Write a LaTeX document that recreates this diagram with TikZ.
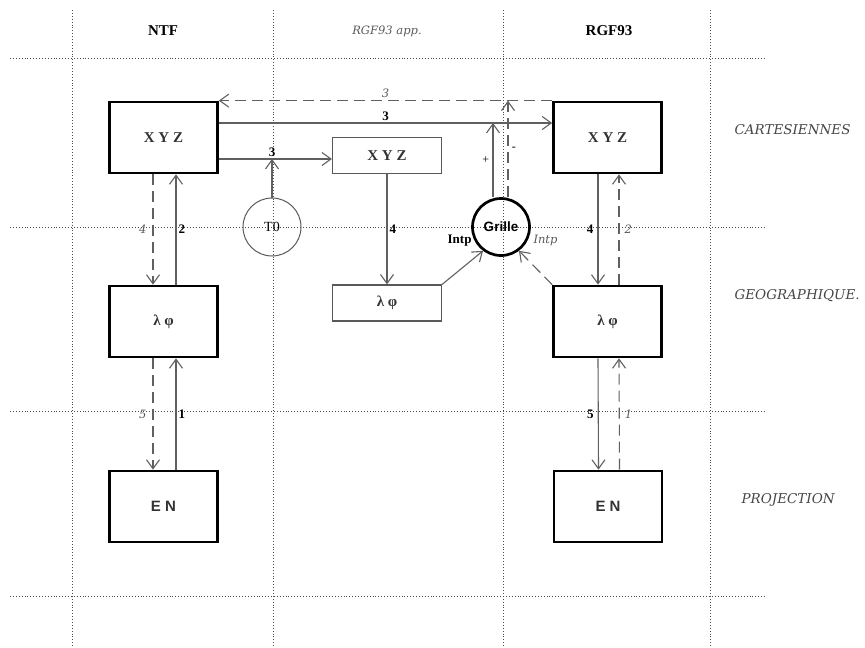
\documentclass[tikz,border=0pt]{standalone}
\usepackage{fontspec}
\setmainfont{Liberation Serif}
\setsansfont{Liberation Sans}
\newfontfamily\slfont{DejaVu Serif}
\usetikzlibrary{arrows.meta,positioning}

\tikzset{
    gridline/.style={black!70,line width=0.9pt,dash pattern=on 1pt off 1.9pt},
    bigbox/.style={draw,line width=2.7pt,minimum width=108pt,minimum height=71pt,
        font=\fontsize{15}{15}\bfseries\selectfont,text=black!80},
    smallbox/.style={draw=gray!70!black,line width=1.2pt,minimum width=109pt,minimum height=36pt,
        font=\fontsize{15}{15}\bfseries\selectfont,text=black!80},
    fwd/.style={draw=gray!75!black,line width=1.1pt,-{Straight Barb[length=9pt,width=13pt]}},
    bwd/.style={fwd,dash pattern=on 11pt off 6pt},
    numlab/.style={font=\fontsize{13}{13}\bfseries\selectfont,inner sep=2pt},
    itlab/.style={font=\slfont\itshape\fontsize{11.5}{12}\selectfont,text=gray!70!black,inner sep=2pt},
    headlab/.style={font=\fontsize{15}{15}\bfseries\selectfont},
    sidelab/.style={font=\slfont\itshape\fontsize{13.5}{14}\selectfont,text=gray!55!black,anchor=west}
}

\begin{document}
\begin{tikzpicture}[x=1pt,y=-1pt]
    \useasboundingbox (0,0) rectangle (865,648);

    \foreach \x in {72,273,503,710}{
        \draw[gridline] (\x,10) -- (\x,648);
    }
    \foreach \y in {58,227,411,596}{
        \draw[gridline] (10,\y) -- (765,\y);
    }

    \node[headlab] (ntf) at (163,31) {NTF};
    \node[itlab] (app) at (387,31) {RGF93 app.};
    \node[headlab] (rgf) at (609,31) {RGF93};

    \node[sidelab] (cart) at (731,130) {CARTESIENNES};
    \node[sidelab] (geog) at (731,296) {GEOGRAPHIQUE.};
    \node[sidelab] (proj) at (738,500) {PROJECTION};

    \node[bigbox] (ntfxyz) at (163.5,137.5) {X Y Z};
    \node[bigbox] (ntfgeo) at (163.5,321.5) {λ φ};
    \node[bigbox,font=\sffamily\bfseries\fontsize{15}{15}\selectfont] (ntfproj) at (163.5,506.5) {E N};

    \node[smallbox] (appxyz) at (387,155.5) {X Y Z};
    \node[smallbox] (appgeo) at (387,303) {λ φ};

    \node[bigbox] (rgfxyz) at (607.5,137.5) {X Y Z};
    \node[bigbox] (rgfgeo) at (607.5,321.5) {λ φ};
    \node[bigbox,font=\sffamily\bfseries\fontsize{15}{15}\selectfont] (rgfproj) at (608,506.5) {E N};

    \node[draw=gray!70!black,circle,line width=1pt,minimum size=58pt,font=\fontsize{14}{14}\selectfont] (t0) at (272,227) {T0};
    \node[draw,circle,line width=2.7pt,minimum size=57pt,font=\sffamily\bfseries\fontsize{13.5}{14}\selectfont] (grille) at (501,227) {Grille};

    \draw[bwd] ([xshift=-10.5pt]ntfxyz.south) -- node[itlab,left=4pt] {4} ([xshift=-10.5pt]ntfgeo.north);
    \draw[fwd] ([xshift=12.5pt]ntfgeo.north) -- node[numlab,right] {2} ([xshift=12.5pt]ntfxyz.south);
    \draw[bwd] ([xshift=-10.5pt]ntfgeo.south) -- node[itlab,left=4pt] {5} ([xshift=-10.5pt]ntfproj.north);
    \draw[fwd] ([xshift=12.5pt]ntfproj.north) -- node[numlab,right] {1} ([xshift=12.5pt]ntfgeo.south);

    \draw[fwd] ([xshift=-9.5pt]rgfxyz.south) -- node[numlab,left=2pt] {4} ([xshift=-9.5pt]rgfgeo.north);
    \draw[bwd] ([xshift=11.5pt]rgfgeo.north) -- node[itlab,right=3pt] {2} ([xshift=11.5pt]rgfxyz.south);
    \draw[fwd] ([xshift=-9.5pt]rgfgeo.south) -- node[numlab,left=2pt] {5} ([xshift=-9.5pt]rgfproj.north);
    \draw[bwd] ([xshift=11.5pt]rgfproj.north) -- node[itlab,right=3pt] {1} ([xshift=11.5pt]rgfgeo.south);

    \coordinate (sol) at ([yshift=14.5pt]ntfxyz.east);
    \coordinate (tstart) at ([yshift=-21.5pt]ntfxyz.east);
    \coordinate (plus) at ([xshift=-8pt]grille.north);
    \coordinate (minus) at ([xshift=7pt]grille.north);

    \draw[bwd] (rgfxyz.north west) -- node[itlab,above] {3} (ntfxyz.north east);
    \draw[fwd] (sol) -- node[numlab,above] {3} (sol -| rgfxyz.west);
    \draw[fwd] (tstart) -- (tstart -| appxyz.west);
    \draw[fwd] (t0.north) -- (t0.north |- tstart) node[numlab,above] {3};

    \draw[fwd] (appxyz.south) -- node[numlab,right] {4} (appgeo.north);

    \draw[fwd] (plus) -- node[left,font=\fontsize{12}{12}\selectfont] {+} (plus |- sol);
    \draw[bwd] (minus) -- node[right,font=\fontsize{12}{12}\selectfont] {-} (minus |- ntfxyz.north);

    \draw[fwd] (appgeo.north east) -- (grille.233) node[numlab,above left=2pt and 9pt] {Intp};
    \draw[bwd] (rgfgeo.north west) -- (grille.307) node[itlab,above right=2pt and 12pt] {Intp};
\end{tikzpicture}
\end{document}
